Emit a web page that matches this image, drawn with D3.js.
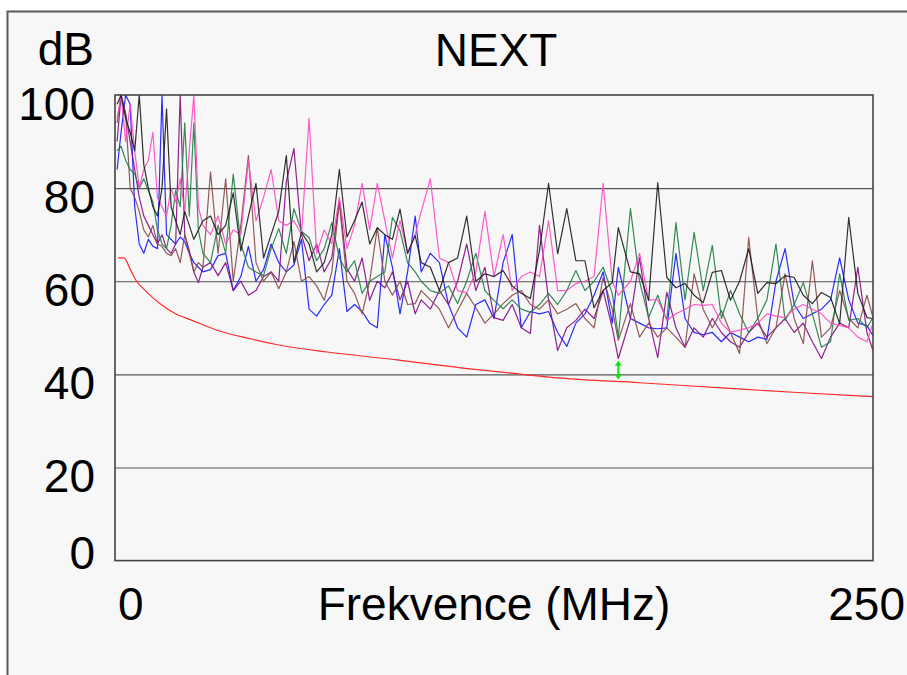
<!DOCTYPE html>
<html>
<head>
<meta charset="utf-8">
<script src="https://cdn.jsdelivr.net/npm/d3@7"></script>
<style>
  body { margin: 0; background: #ffffff; }
  svg { display: block; font-family: "Liberation Sans", Arial, sans-serif; }
</style>
</head>
<body>
<div id="chart"></div>
<script>
// NEXT measurement, 6 pairs against the limit line
const freq = [
  0.7, 2, 3.5, 5, 6.5, 8, 9.5, 11, 12.5, 14, 15.5, 17, 18.5, 20, 21.5, 23, 24.5, 26, 27.5, 29,
  31.5, 34, 36.5, 39, 41.5, 44, 46.5, 49, 51.5, 54, 56.5, 59, 61.5, 64, 66.5, 69, 71.5, 74, 76.5, 79,
  81.5, 84, 86.5, 89, 91.5, 94, 96.5, 99,
  101, 104, 107, 110, 113, 116, 119, 122, 125, 128, 131, 134, 137, 140, 143, 146, 149, 152, 155, 158,
  161, 164, 166, 170, 173, 176, 179, 182, 185, 188, 191, 194, 197, 200, 203, 206, 209, 212, 215, 218,
  221, 224, 227, 230, 233, 236, 239, 242, 245, 248, 250
];

const blue = [
  84, 92, 100, 98, 76, 68, 66, 69, 67.5, 67, 100, 70, 69, 68, 69.5, 68.5, 66, 64, 63, 62,
  62.5, 65.5, 66, 58, 61, 67.5, 60, 62.5, 68, 64, 62, 63.5, 69, 54, 52.5, 55, 57, 67, 53.5, 55,
  53.5, 51, 50, 70, 63, 53, 62, 74,
  62, 66, 64, 55, 50, 48, 55, 56, 52, 64, 70, 50, 53.5, 53, 53.5, 49, 46, 51, 53, 57,
  62, 51, 63, 52, 51, 50, 49.8, 50, 66, 52, 49, 48.5, 49, 47, 49, 48, 47, 48, 47.5, 60,
  67, 55, 52, 53, 54, 56, 65, 56, 51, 50.5, 48.3
];
const pink = [
  95, 100, 90, 98, 88, 80, 84, 86, 92, 78, 76, 74, 80, 77, 82, 75, 88, 100, 76, 72,
  70, 74, 68, 71, 70, 86, 73, 78, 84, 73, 72, 73, 70, 95, 66, 71, 68, 78, 67, 72,
  81, 71, 81, 73, 65, 73, 66, 70,
  75, 82, 65, 64, 58, 57.5, 62, 75, 61, 70, 58, 61, 62, 61, 73, 58, 58, 59.5, 60, 61,
  81, 60, 57, 60, 66, 56, 56, 51.6, 53, 54, 55, 54.8, 55, 51, 49, 49.5, 50, 51, 53, 52.5,
  52.2, 54, 55, 54, 53, 51, 50.5, 50, 48, 47, 51
];
const black = [
  98, 100, 95, 92, 88, 100, 85, 80, 76, 74, 80, 97, 76, 73, 70, 75, 72, 69, 71, 73,
  74, 70, 72, 79, 66.5, 74, 81, 65, 70, 75, 87, 64, 70.5, 68, 62, 64, 70, 84, 69.5, 73,
  77, 68, 71.5, 70, 69, 75.5, 66, 69.8,
  64, 63, 58, 64, 65, 74, 60, 61.6, 61, 62.3, 59, 57.4, 56.3, 66.6, 81, 65.9, 75.6, 64.4, 64.4, 54.3,
  58, 59.7, 71.5, 62, 61.6, 55.9, 81.2, 60.8, 58.6, 59.5, 57, 55.4, 61.9, 62.3, 55.9, 60, 67, 57.4, 59.7, 59.5,
  61.2, 60.8, 57, 55.2, 57.6, 56.5, 50.9, 73.7, 57.4, 52.2, 52
];
const green = [
  88, 89, 86, 84, 83, 80, 82, 79.5, 77, 71, 68, 67, 72, 79.5, 76, 94, 74, 94, 71, 66,
  64, 72, 66, 83, 68, 63, 62, 61.2, 67, 71.3, 66, 75.6, 70.7, 69.4, 64.4, 67, 72.6, 65, 62, 64.4,
  57.4, 60, 61, 62, 73.7, 70.9, 64, 62,
  60, 58, 57.4, 59, 55.2, 60, 66, 58, 55.9, 54.1, 56, 54, 53.3, 55, 57.4, 55, 58, 62.3, 58, 60,
  63, 57.4, 48, 75.6, 60, 52.2, 57, 51.6, 72.6, 56, 70.5, 58, 67.7, 52, 58, 53, 49, 52, 56, 68,
  51.6, 55, 59.7, 53, 45.8, 47, 61.6, 51.6, 52, 50, 52.2
];
const brown = [
  94, 100, 96, 80, 78, 75, 71, 69.5, 72, 68, 67.5, 66, 65.5, 67, 64, 70, 66, 62, 64, 63,
  83.5, 66, 82, 60, 72, 87, 64, 60, 62, 58.4, 62, 68.5, 60, 61, 59, 55.9, 62, 77, 60, 57.4,
  53, 60, 71.5, 60, 57, 60, 55, 55.2,
  58, 56, 54, 50, 53.7, 57.4, 54.3, 51, 53, 55.2, 57, 58, 55, 54, 56, 53, 54, 55.2, 52, 50,
  60.8, 54, 47.3, 55.2, 48, 51, 48, 50, 48, 45.8, 61.6, 54, 50, 53.7, 49, 44.5, 69.4, 52, 46.6, 50,
  61.6, 52, 46.6, 64.4, 48, 50, 58, 52, 50, 57, 52.2
];
const purple = [
  90, 100, 96, 90, 84, 78, 74, 72, 70, 68, 70, 67, 66, 68, 100, 70, 66.6, 62, 59.7, 63,
  64, 61.2, 64, 58, 60, 57, 58, 61, 62, 60, 81.4, 88.5, 70, 64.4, 68, 62, 65, 77.3, 62.7, 60,
  65, 55.9, 60, 58.6, 62, 56, 60, 53,
  56, 54, 58, 55, 60, 68, 58, 63, 52.2, 51.6, 55, 50, 48.8, 72, 56, 45.1, 50, 51.6, 54, 52,
  58, 50, 43.4, 52, 65, 52, 43.6, 57.6, 50, 45.8, 50, 48, 52, 49, 47, 45.8, 49, 51, 48, 50,
  52, 49, 51, 47, 43.4, 48, 51, 50, 63, 49, 45.1
];

// limit line
const limitFreq = [1, 3, 5, 7, 10, 15, 20, 25, 35, 45, 55, 70, 93, 114, 130, 147, 173, 200, 225, 250];
const limitDb = [65, 65, 62.6, 60.1, 58, 55.1, 53, 51.7, 49.2, 47.6, 46.2, 44.8, 43.1, 41.4, 40.3, 39.2, 38.2, 37.1, 36.1, 35.2];

// worst margin marker
const markerFreq = 166;
const markerTop = 42.9;
const markerBottom = 38.9;

const yTicks = [0, 20, 40, 60, 80, 100];
const xTicks = [0, 250];

const series = [
  { name: "blue", values: blue, color: "#1414ff" },
  { name: "purple", values: purple, color: "#820a82" },
  { name: "brown", values: brown, color: "#864848" },
  { name: "green", values: green, color: "#1f7d43" },
  { name: "pink", values: pink, color: "#ff48c4" },
  { name: "black", values: black, color: "#1a1a1a" }
];

const W = 907, H = 675;
const margin = { top: 95, right: 34, bottom: 114.4, left: 115 };

const svg = d3.select("#chart").append("svg")
  .attr("width", W)
  .attr("height", H);

// Outer panel
svg.append("rect")
  .attr("x", 7.5).attr("y", 11.5)
  .attr("width", 1000).attr("height", 1000)
  .attr("fill", "#f7f7f7")
  .attr("stroke", "#5a5a5a")
  .attr("stroke-width", 2);

const xScale = d3.scaleLinear()
  .domain([0, 250])
  .range([margin.left, W - margin.right]);

const yScale = d3.scaleLinear()
  .domain([0, 100])
  .range([H - margin.bottom, margin.top]);

svg.append("defs").append("clipPath")
  .attr("id", "plot-clip")
  .append("rect")
  .attr("x", xScale(0)).attr("y", yScale(100))
  .attr("width", xScale(250) - xScale(0))
  .attr("height", yScale(0) - yScale(100));

// Grid lines
svg.append("g")
  .attr("class", "grid")
  .attr("transform", `translate(${xScale(0)},0)`)
  .call(d3.axisLeft(yScale)
    .tickValues(yTicks.filter(d => d > 0 && d < 100))
    .tickSize(-(xScale(250) - xScale(0)))
    .tickFormat(""))
  .call(g => g.select(".domain").remove())
  .selectAll("line")
  .attr("stroke", "#555")
  .attr("stroke-width", 1.2);

// Y labels
svg.append("g")
  .selectAll("text")
  .data(yTicks)
  .enter().append("text")
  .attr("x", 95)
  .attr("y", d => yScale(d) + (d === 0 ? 8 : 25))
  .attr("text-anchor", "end")
  .style("font-size", "46px")
  .style("fill", "#000")
  .text(d => d);

// X labels (0 sits just inside the left edge, 250 is pushed to the right border)
svg.append("g")
  .selectAll("text")
  .data(xTicks)
  .enter().append("text")
  .attr("x", d => d === 0 ? xScale(d) + 3 : 905)
  .attr("y", 620)
  .attr("text-anchor", d => d === 0 ? "start" : "end")
  .style("font-size", "46px")
  .style("fill", "#000")
  .text(d => d);

svg.append("text")
  .attr("x", (xScale(0) + xScale(250)) / 2)
  .attr("y", 620)
  .attr("text-anchor", "middle")
  .style("font-size", "46px")
  .text("Frekvence (MHz)");

svg.append("text")
  .attr("x", (xScale(0) + xScale(250)) / 2 + 2)
  .attr("y", 66)
  .attr("text-anchor", "middle")
  .style("font-size", "46px")
  .text("NEXT");

svg.append("text")
  .attr("x", 94)
  .attr("y", 65)
  .attr("text-anchor", "end")
  .style("font-size", "46px")
  .text("dB");

// Measured pairs
const line = d3.line()
  .x((d, i) => xScale(freq[i]))
  .y(d => yScale(d));

const plot = svg.append("g").attr("clip-path", "url(#plot-clip)");

plot.selectAll(".pair")
  .data(series)
  .enter().append("path")
  .attr("class", "pair")
  .attr("d", d => line(d.values))
  .attr("fill", "none")
  .attr("stroke", d => d.color)
  .attr("stroke-width", 1.2)
  .attr("stroke-opacity", 0.9)
  .attr("stroke-linejoin", "round");

// Limit
const limitLine = d3.line()
  .x((d, i) => xScale(limitFreq[i]))
  .y(d => yScale(d))
  .curve(d3.curveMonotoneX);

plot.append("path")
  .attr("d", limitLine(limitDb))
  .attr("fill", "none")
  .attr("stroke", "#ff2a2a")
  .attr("stroke-width", 1.2);

// Worst margin arrow
const mx = xScale(markerFreq);
const my1 = yScale(markerTop), my2 = yScale(markerBottom);
const arrow = svg.append("g").attr("fill", "#14e014").attr("stroke", "#14e014");
arrow.append("line")
  .attr("x1", mx).attr("x2", mx)
  .attr("y1", my1 + 3).attr("y2", my2 - 3)
  .attr("stroke-width", 2);
arrow.append("path")
  .attr("stroke", "none")
  .attr("d", `M${mx},${my1} L${mx - 3.5},${my1 + 5} L${mx + 3.5},${my1 + 5} Z`);
arrow.append("path")
  .attr("stroke", "none")
  .attr("d", `M${mx},${my2} L${mx - 3.5},${my2 - 5} L${mx + 3.5},${my2 - 5} Z`);

// Plot frame
svg.append("rect")
  .attr("x", xScale(0)).attr("y", yScale(100))
  .attr("width", xScale(250) - xScale(0))
  .attr("height", yScale(0) - yScale(100))
  .attr("fill", "none")
  .attr("stroke", "#444")
  .attr("stroke-width", 1.6);
</script>
</body>
</html>
